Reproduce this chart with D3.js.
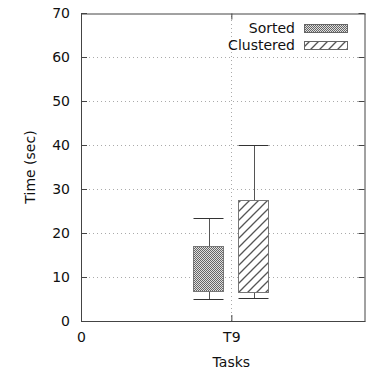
<!DOCTYPE html>
<html>
<head>
<meta charset="utf-8">
<script src="https://cdn.jsdelivr.net/npm/d3@7"></script>
<style>
  html, body { margin: 0; padding: 0; background: #fff; }
  svg { display: block; font-family: "DejaVu Sans", sans-serif; }
</style>
</head>
<body>
<svg id="chart" width="366" height="371"></svg>
<script>
// Task categories and their position on the x axis
const categories = ["T9"];
const categoryPos = [9];

// Box statistics per series (one entry per category)
const seriesNames = ["Sorted", "Clustered"];
const sortedMin = [4.9];
const sortedQ1 = [6.8];
const sortedQ3 = [17.0];
const sortedMax = [23.4];
const clusteredMin = [5.2];
const clusteredQ1 = [6.7];
const clusteredQ3 = [27.5];
const clusteredMax = [40.1];

// Axis ticks
const yTicks = [0, 10, 20, 30, 40, 50, 60, 70];
const xTickLabels = ["0", "T9"];
const xTickValues = [0, 9];

const svg = d3.select("#chart");
const margin = { left: 81, right: 1, top: 13, bottom: 50 };
const W = 366, H = 371;

const x = d3.scaleLinear().domain([0, 17]).range([margin.left, W - margin.right]);
const y = d3.scaleLinear().domain([0, 70]).range([H - margin.bottom, margin.top]);

// Patterns
const defs = svg.append("defs");
const chk = defs.append("pattern").attr("id", "checker")
  .attr("patternUnits", "userSpaceOnUse").attr("width", 2).attr("height", 2);
chk.append("rect").attr("width", 2).attr("height", 2).attr("fill", "#e0e0e0");
chk.append("rect").attr("x", 0).attr("y", 0).attr("width", 1).attr("height", 1).attr("fill", "#666");
chk.append("rect").attr("x", 1).attr("y", 1).attr("width", 1).attr("height", 1).attr("fill", "#666");

const hatch = defs.append("pattern").attr("id", "hatch")
  .attr("patternUnits", "userSpaceOnUse").attr("width", 9).attr("height", 9);
hatch.append("rect").attr("width", 9).attr("height", 9).attr("fill", "#fff");
hatch.append("path").attr("d", "M-1,1 L1,-1 M0,9 L9,0 M8,10 L10,8")
  .attr("stroke", "#555").attr("stroke-width", 1.3);

// Grid lines
const grid = svg.append("g").attr("stroke", "#aaa").attr("stroke-width", 1)
  .attr("stroke-dasharray", "1,3");
grid.selectAll("line.h").data(yTicks.filter(v => v > 0 && v < 70)).join("line")
  .attr("x1", x(0)).attr("x2", x(17))
  .attr("y1", d => Math.round(y(d)) + 0.5).attr("y2", d => Math.round(y(d)) + 0.5);
grid.selectAll("line.v").data(categoryPos).join("line")
  .attr("x1", d => Math.round(x(d)) + 0.5).attr("x2", d => Math.round(x(d)) + 0.5)
  .attr("y1", y(0)).attr("y2", y(70));

// Boxes
const boxW = 1.8, offsets = [-1.38, 1.32];
const series = [
  { name: seriesNames[0], fill: "url(#checker)", min: sortedMin, q1: sortedQ1, q3: sortedQ3, max: sortedMax },
  { name: seriesNames[1], fill: "url(#hatch)", min: clusteredMin, q1: clusteredQ1, q3: clusteredQ3, max: clusteredMax }
];
series.forEach((s, si) => {
  const g = svg.append("g");
  categoryPos.forEach((c, i) => {
    const x0 = Math.round(x(c + offsets[si] - boxW / 2)) + 0.5;
    const x1 = Math.round(x(c + offsets[si] + boxW / 2)) + 0.5;
    const xc = Math.round((x0 + x1) / 2) + 0.5;
    const yMax = Math.round(y(s.max[i])) + 0.5, yMin = Math.round(y(s.min[i])) + 0.5;
    const yQ3 = Math.round(y(s.q3[i])) + 0.5, yQ1 = Math.round(y(s.q1[i])) + 0.5;
    g.append("line").attr("x1", xc).attr("x2", xc).attr("y1", yMax).attr("y2", yQ3).attr("stroke", "#555");
    g.append("line").attr("x1", xc).attr("x2", xc).attr("y1", yQ1).attr("y2", yMin).attr("stroke", "#555");
    g.append("line").attr("x1", x0).attr("x2", x1).attr("y1", yMax).attr("y2", yMax).attr("stroke", "#333");
    g.append("line").attr("x1", x0).attr("x2", x1).attr("y1", yMin).attr("y2", yMin).attr("stroke", "#333");
    g.append("rect").attr("x", x0).attr("y", yQ3).attr("width", x1 - x0).attr("height", yQ1 - yQ3)
      .attr("fill", s.fill).attr("stroke", "#777").attr("stroke-width", 1);
  });
});

// Axes
const fs = 14;
const yAxis = d3.axisLeft(y).tickValues(yTicks).tickSizeInner(-6).tickSizeOuter(0).tickPadding(11);
const yg = svg.append("g").attr("transform", `translate(${x(0)},0)`).call(yAxis);
const yAxisR = d3.axisRight(y).tickValues(yTicks).tickSizeInner(-6).tickSizeOuter(0).tickFormat("");
const ygr = svg.append("g").attr("transform", `translate(${x(17) - 0.5},0)`).call(yAxisR);
const xAxis = d3.axisBottom(x).tickValues(xTickValues).tickFormat((d, i) => xTickLabels[i])
  .tickSizeInner(-6).tickSizeOuter(0).tickPadding(11);
const xg = svg.append("g").attr("transform", `translate(0,${y(0)})`).call(xAxis);
const xAxisT = d3.axisTop(x).tickValues(xTickValues).tickSizeInner(-6).tickSizeOuter(0).tickFormat("");
const xgt = svg.append("g").attr("transform", `translate(0,${y(70) + 0.5})`).call(xAxisT);
[yg, ygr, xg, xgt].forEach(g => {
  g.selectAll(".domain").attr("stroke", "#444");
  g.selectAll(".tick line").attr("stroke", "#444");
  g.selectAll("text").attr("font-size", fs).attr("font-family", "DejaVu Sans").attr("fill", "#111");
});

// Axis titles
svg.append("text").attr("x", x(9)).attr("y", 367).attr("text-anchor", "middle")
  .attr("font-size", fs).attr("fill", "#111").text("Tasks");
svg.append("text").attr("transform", `translate(35,${y(35)}) rotate(-90)`).attr("text-anchor", "middle")
  .attr("font-size", fs).attr("fill", "#111").text("Time (sec)");

// Legend
const leg = svg.append("g");
series.forEach((s, i) => {
  const ly = 28 + i * 17;
  leg.append("text").attr("x", 295).attr("y", ly + 5).attr("text-anchor", "end")
    .attr("font-size", fs).attr("fill", "#111").text(s.name);
  leg.append("rect").attr("x", 304.5).attr("y", ly - 3.5).attr("width", 43).attr("height", 8)
    .attr("fill", s.fill).attr("stroke", "#666");
});
</script>
</body>
</html>
